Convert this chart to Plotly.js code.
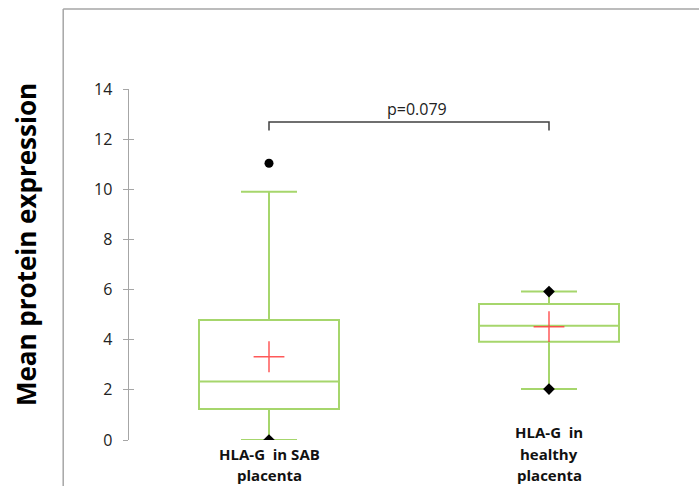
<!DOCTYPE html>
<html>
<head>
<meta charset="utf-8">
<script src="https://cdn.plot.ly/plotly-3.0.1.min.js"></script>
<style>html,body{margin:0;padding:0;background:#fff;}#chart{width:699px;height:486px;}</style>
</head>
<body>
<div id="chart"></div>
<script>
// ---- data ----
const groupPos = [1, 2];
const groupLabels = ["HLA-G  in SAB<br>placenta", "HLA-G  in<br>healthy<br>placenta"];
const q1Vals = [1.24, 3.92];
const medianVals = [2.33, 4.56];
const q3Vals = [4.79, 5.42];
const lowerWhisker = [0.0, 2.03];
const upperWhisker = [9.9, 5.92];
const meanVals = [3.32, 4.52];
const minMaxX = [1, 2, 2];
const minMaxY = [0.0, 5.92, 2.03];
const outlierX = [1];
const outlierY = [11.04];
const pText = "p=0.079";
const bracketY = 12.68;
const bracketTickY = 12.34;
const yTicks = [0, 2, 4, 6, 8, 10, 12, 14];
const yTitle = "Mean protein expression";

const green = "rgb(166,214,108)";
const font = "Open Sans, Liberation Sans, sans-serif";
const plotH = 351; // plot area height in px (for label placement)

const traces = [
  {
    type: "box",
    x: groupPos,
    q1: q1Vals, median: medianVals, q3: q3Vals,
    lowerfence: lowerWhisker, upperfence: upperWhisker,
    boxpoints: false,
    width: 0.5,
    whiskerwidth: 0.4,
    line: {color: green, width: 2},
    fillcolor: "rgba(0,0,0,0)",
    hoverinfo: "skip",
    showlegend: false
  },
  {
    type: "scatter", mode: "markers",
    x: groupPos, y: meanVals,
    marker: {symbol: "cross-thin", size: 22, line: {color: "rgba(255,60,60,0.85)", width: 1.5}},
    showlegend: false, hoverinfo: "skip"
  },
  {
    type: "scatter", mode: "markers",
    x: minMaxX, y: minMaxY,
    marker: {symbol: "diamond", size: 9, color: "#000"},
    showlegend: false, hoverinfo: "skip"
  },
  {
    type: "scatter", mode: "markers",
    x: outlierX, y: outlierY,
    marker: {symbol: "circle", size: 9, color: "#000"},
    showlegend: false, hoverinfo: "skip"
  },
  {
    type: "scatter", mode: "lines",
    x: [groupPos[0], groupPos[0], groupPos[1], groupPos[1]],
    y: [bracketTickY, bracketY, bracketY, bracketTickY],
    line: {color: "#404040", width: 1.5},
    showlegend: false, hoverinfo: "skip"
  },
  {
    // invisible trace on overlay axis for the inner half of tick marks
    type: "scatter", mode: "markers", x: [1], y: [0], yaxis: "y2",
    marker: {opacity: 0}, showlegend: false, hoverinfo: "skip"
  }
];

const annotations = [
  {
    x: (groupPos[0] + groupPos[1]) / 2 + 0.03, y: bracketY, xref: "x", yref: "y",
    text: pText, showarrow: false, yanchor: "bottom", yshift: 0,
    font: {family: font, size: 16, color: "#222"}
  },
  {
    x: -0.184, y: 0.558, xref: "paper", yref: "paper", xanchor: "center", yanchor: "middle",
    text: "<b>" + yTitle + "</b>", textangle: -90, showarrow: false,
    font: {family: font, size: 26, color: "#000"}
  }
];
// category labels: one annotation per line, stacked up from the bottom
groupLabels.forEach((lab, i) => {
  const lines = lab.split("<br>");
  lines.forEach((ln, j) => {
    const k = lines.length - 1 - j;          // lines from the bottom
    const yPx = 475 - 21.5 * k;              // centre of the line in px
    annotations.push({
      x: groupPos[i], y: -(yPx - 440) / plotH, xref: "x", yref: "paper",
      text: "<b>" + ln + "</b>", showarrow: false, yanchor: "middle",
      font: {family: font, size: 15, color: "#111"}
    });
  });
});

const grey = "#a6a6a6";
const layout = {
  width: 699, height: 486,
  margin: {l: 129, r: 10, t: 89, b: 46},
  paper_bgcolor: "#fff", plot_bgcolor: "#fff",
  showlegend: false,
  xaxis: {range: [0.5, 2.5], showgrid: false, zeroline: false, showline: false, showticklabels: false, ticks: ""},
  yaxis: {
    range: [0, 14], tickvals: yTicks, showgrid: false, zeroline: false,
    showline: true, linecolor: grey, linewidth: 1.5,
    ticks: "outside", ticklen: 5, tickcolor: grey, tickwidth: 1,
    ticklabelstandoff: 7,
    tickfont: {family: font, size: 16, color: "#222"}
  },
  yaxis2: {
    range: [0, 14], tickvals: yTicks, overlaying: "y", side: "left",
    showgrid: false, zeroline: false, showline: false, showticklabels: false,
    ticks: "inside", ticklen: 5, tickcolor: grey, tickwidth: 1
  },
  shapes: [
    {type: "line", xref: "paper", yref: "paper", x0: -0.1175, x1: -0.1175, y0: 1.228, y1: -0.14, line: {color: grey, width: 1.5}},
    {type: "line", xref: "paper", yref: "paper", x0: -0.1175, x1: 1.03, y0: 1.228, y1: 1.228, line: {color: grey, width: 1.5}}
  ],
  annotations: annotations
};

Plotly.newPlot("chart", traces, layout, {displayModeBar: false, staticPlot: true});
</script>
</body>
</html>
